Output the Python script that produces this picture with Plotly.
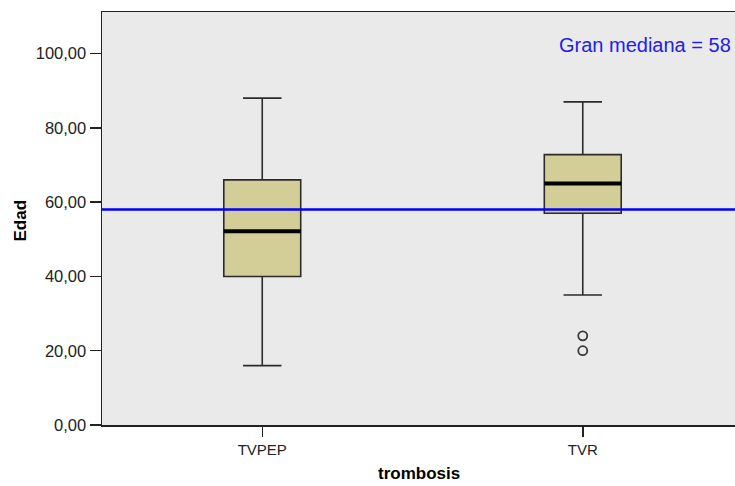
import plotly.graph_objects as go

# Data
categories = ["TVPEP", "TVR"]
q1 = [40.0, 57.0]
median = [52.2, 65.0]
q3 = [66.0, 72.8]
lower_whisker = [16.0, 35.0]
upper_whisker = [88.0, 87.0]
outlier_group = [1, 1]
outlier_values = [24.0, 20.0]
grand_median = 58
y_ticks = [0, 20, 40, 60, 80, 100]

box_width = 0.24
xpos = list(range(len(categories)))

fig = go.Figure()

fig.add_trace(go.Box(
    x=xpos, q1=q1, median=median, q3=q3,
    lowerfence=lower_whisker, upperfence=upper_whisker,
    width=box_width, whiskerwidth=0.5,
    fillcolor="#d3ce97",
    line=dict(color="#2b2b2b", width=1.6),
    boxpoints=False, showlegend=False, hoverinfo="skip",
))

# thick median lines
for i, m in zip(xpos, median):
    fig.add_trace(go.Scatter(
        x=[i - box_width / 2, i + box_width / 2], y=[m, m],
        mode="lines", line=dict(color="#000000", width=4),
        showlegend=False, hoverinfo="skip",
    ))

fig.add_trace(go.Scatter(
    x=outlier_group, y=outlier_values, mode="markers",
    marker=dict(symbol="circle-open", size=9, color="#3a3a3a", line=dict(width=1.8)),
    showlegend=False, hoverinfo="skip",
))

fig.add_shape(type="line", xref="paper", x0=0, x1=1, yref="y",
              y0=grand_median, y1=grand_median,
              line=dict(color="#0000ff", width=2.5))

fig.add_annotation(text=f"Gran mediana = {grand_median}", xref="paper", x=0.9968,
                   xanchor="right", yref="y", y=102.2, yanchor="middle",
                   showarrow=False, font=dict(family="Liberation Sans, Arial", size=20, color="#2020f0"))

fig.add_annotation(text="<b>Edad</b>", xref="paper", x=-0.128, y=0.495, yref="paper",
                   xanchor="center", yanchor="middle", textangle=-90, showarrow=False,
                   font=dict(family="Liberation Sans, Arial", size=17, color="#000000"))
fig.add_annotation(text="<b>trombosis</b>", xref="paper", x=0.5, y=-0.1186, yref="paper",
                   xanchor="center", yanchor="middle", showarrow=False,
                   font=dict(family="Liberation Sans, Arial", size=17, color="#000000"))

fig.update_layout(
    width=735, height=486,
    margin=dict(l=102, r=0, t=12, b=61),
    paper_bgcolor="#ffffff", plot_bgcolor="#eaeaea",
    separators=",.",
    font=dict(family="Liberation Sans, Arial", size=16, color="#222222"),
    xaxis=dict(range=[-0.5, 1.475], tickvals=xpos, ticktext=categories,
               tickfont=dict(size=15),
               ticks="outside", ticklen=10, tickcolor="#222222", tickwidth=1.5,
               showline=True, linecolor="#222222", linewidth=1.5, mirror=True,
               showgrid=False, zeroline=False, fixedrange=True),
    yaxis=dict(range=[0, 111.2], tickvals=y_ticks, tickformat=".2f",
               tickfont=dict(size=16.5),
               ticks="outside", ticklen=11, tickcolor="#222222", tickwidth=1.5,
               showline=True, linecolor="#222222", linewidth=1.5,
               showgrid=False, zeroline=False, fixedrange=True),
)

fig.write_html(
    "out.html",
    config={"displayModeBar": False, "staticPlot": True},
    post_script="document.body.style.margin='0';document.body.style.overflow='hidden';",
)
